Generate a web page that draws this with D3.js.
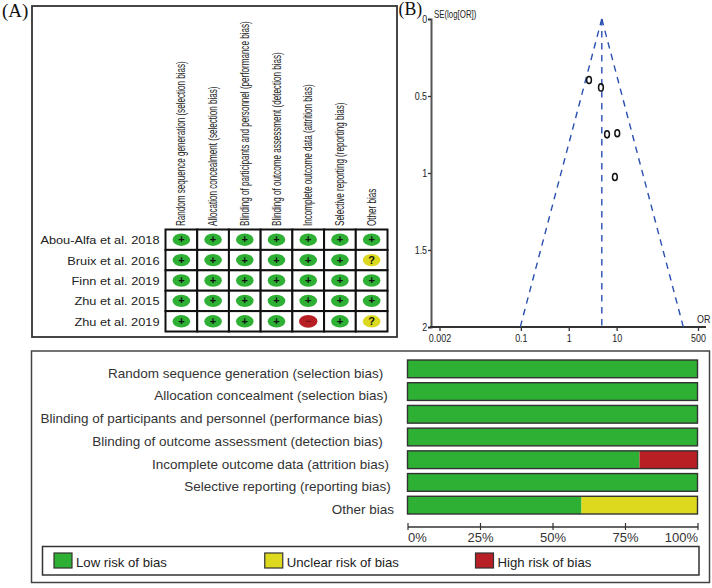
<!DOCTYPE html>
<html><head><meta charset="utf-8">
<script src="https://cdn.jsdelivr.net/npm/d3@7"></script>
<style>html,body{margin:0;padding:0;background:#fff}svg{display:block}text{font-family:"Liberation Sans",Arial,sans-serif}</style>
</head><body><svg id="c" width="712" height="588"></svg>
<script>
const domains=["Random sequence generation (selection bias)","Allocation concealment (selection bias)","Blinding of participants and personnel (performance bias)","Blinding of outcome assessment (detection bias)","Incomplete outcome data (attrition bias)","Selective reporting (reporting bias)","Other bias"];
const studies=["Abou-Alfa et al. 2018","Bruix et al. 2016","Finn et al. 2019","Zhu et al. 2015","Zhu et al. 2019"];
const judgement=[
 ["+","+","+","+","+","+","+"],
 ["+","+","+","+","+","+","?"],
 ["+","+","+","+","+","+","+"],
 ["+","+","+","+","+","+","+"],
 ["+","+","+","+","-","+","?"]];
const lowPct=[100,100,100,100,80,100,60];
const unclearPct=[0,0,0,0,0,0,40];
const highPct=[0,0,0,0,20,0,0];
const pctTicks=[0,25,50,75,100];
const legendLabels=["Low risk of bias","Unclear risk of bias","High risk of bias"];
const funnelOR=[2.65,4.7,6.3,10.3,9.2];
const funnelSE=[0.396,0.444,0.749,0.742,1.026];
const pooledOR=4.9;
const orTicks=[0.002,0.1,1,10,500];
const seTicks=[0,0.5,1,1.5,2];

const GREEN="#2db034",YELLOW="#dcd91f",RED="#b81f25";
const svg=d3.select("#c");
const color={"+":GREEN,"?":YELLOW,"-":RED};

// panel labels
[["(A)",2,17,19],["(B)",398.5,14.5,17.8]].forEach(([t,x,y,fs])=>svg.append("text").attr("x",x).attr("y",y).attr("font-size",fs).style("font-family","'Liberation Serif',serif").attr("fill","#111").text(t));

// ---- Panel A
svg.append("rect").attr("x",32).attr("y",6).attr("width",365).attr("height",331).attr("fill","none").attr("stroke","#333").attr("stroke-width",1.8);
const gx=d3.scaleBand().domain(domains).range([165.5,387.5]);
const gy=d3.scaleBand().domain(studies).range([229.5,331.5]);
const cell=svg.append("g");
studies.forEach((s,r)=>domains.forEach((d,c)=>{
  const v=judgement[r][c];
  const cx=gx(d)+gx.bandwidth()/2, cy=gy(s)+gy.bandwidth()/2;
  cell.append("rect").attr("x",gx(d)).attr("y",gy(s)).attr("width",gx.bandwidth()).attr("height",gy.bandwidth()).attr("fill","#fff").attr("stroke","#111").attr("stroke-width",2);
  cell.append("ellipse").attr("cx",cx).attr("cy",cy).attr("rx",v==="-"?9.2:8.8).attr("ry",v==="-"?6.4:6.2).attr("fill",color[v]);
  cell.append("text").attr("x",cx).attr("y",cy+(v==="?"?4:3.5)).attr("text-anchor","middle").attr("font-size",11).attr("font-weight","bold").attr("fill",v==="-"?"#7a1015":"#111").text(v==="-"?"−":v);
}));
svg.append("g").selectAll("text").data(studies).join("text")
  .attr("transform",d=>`translate(159.5,${gy(d)+gy.bandwidth()/2+4.5}) scale(1.16,1)`)
  .attr("text-anchor","end").attr("font-size",11).attr("fill","#222").text(d=>d);
svg.append("g").selectAll("text").data(domains).join("text")
  .attr("transform",d=>`translate(${gx(d)+gx.bandwidth()/2+4},226) rotate(-90) scale(0.59,1)`)
  .attr("font-size",13.7).attr("fill","#222").text(d=>d);

// ---- Panel B
const fx=d3.scaleLog().domain([0.002,500]).range([439.5,698]);
const fy=d3.scaleLinear().domain([0,2]).range([19,327]);
const yAxis=svg.append("g").attr("transform","translate(431,0)").call(d3.axisLeft(fy).tickValues(seTicks).tickFormat(d3.format("~g")).tickSize(3).tickPadding(3));
const xAxis=svg.append("g").attr("transform","translate(0,327)").call(d3.axisBottom(fx).tickValues(orTicks).tickFormat(d=>String(d)).tickSize(4).tickPadding(4));
yAxis.select(".domain").attr("stroke","#555").attr("stroke-width",2);
xAxis.select(".domain").remove();
svg.append("line").attr("x1",430).attr("x2",706).attr("y1",327).attr("y2",327).attr("stroke","#333").attr("stroke-width",1.8);
[yAxis,xAxis].forEach(a=>{a.selectAll("line").attr("stroke","#333").attr("stroke-width",1.3);a.selectAll("text").attr("font-size",10.5).attr("fill","#222").style("font-family","'Liberation Sans',sans-serif");});
yAxis.selectAll("text").attr("transform","scale(0.85,1)").attr("x",-4.6);
xAxis.selectAll("text").attr("transform","scale(0.85,1)").attr("x",0);
svg.append("text").attr("transform","translate(434,18) scale(0.75,1)").attr("font-size",10.5).attr("fill","#222").text("SE(log[OR])");
svg.append("text").attr("transform","translate(697,323) scale(0.85,1)").attr("font-size",10.5).attr("fill","#222").text("OR");
// 95% limits around the pooled estimate
const limit=(se,s)=>pooledOR*Math.exp(s*1.96*se);
const dash="6.5,5.5";
const funnelLine=d3.line().x(d=>fx(d[0])).y(d=>fy(d[1]));
[-1,1].forEach(s=>svg.append("path").attr("d",funnelLine([[limit(0,s),0],[limit(2,s),2]])).attr("fill","none").attr("stroke","#2a4fb0").attr("stroke-width",1.4).attr("stroke-dasharray",dash));
svg.append("path").attr("d",funnelLine([[pooledOR,0],[pooledOR,2]])).attr("fill","none").attr("stroke","#2a4fb0").attr("stroke-width",1.4).attr("stroke-dasharray",dash);
svg.append("g").selectAll("ellipse").data(funnelOR).join("ellipse")
  .attr("cx",d=>fx(d)).attr("cy",(d,i)=>fy(funnelSE[i])).attr("rx",2.4).attr("ry",3.6)
  .attr("fill","none").attr("stroke","#111").attr("stroke-width",1.5);

// ---- Panel C
svg.append("rect").attr("x",31.5).attr("y",351).attr("width",678).attr("height",231.5).attr("fill","none").attr("stroke","#444").attr("stroke-width",1.5);
const bx=d3.scaleLinear().domain([0,100]).range([407.5,697.5]);
const by=d3.scaleBand().domain(domains).range([360,514]).paddingInner(0.22).paddingOuter(0);
const labelRight=[383.3,387.7,382.7,382.7,389,390.7,394];
svg.append("g").selectAll("text").data(domains).join("text")
  .attr("transform",(d,i)=>`translate(${labelRight[i]},${by(d)+by.bandwidth()})`)
  .attr("text-anchor","end").attr("font-size",13.5).attr("fill","#333").text(d=>d);
const barG=svg.append("g");
domains.forEach((d,i)=>{
  let acc=0;
  [[lowPct[i],GREEN],[unclearPct[i],YELLOW],[highPct[i],RED]].forEach(([v,col])=>{
    if(!v)return;
    barG.append("rect").attr("x",bx(acc)).attr("y",by(d)).attr("width",bx(acc+v)-bx(acc)).attr("height",by.bandwidth()).attr("fill",col);
    acc+=v;
  });
  barG.append("rect").attr("x",bx(0)).attr("y",by(d)).attr("width",bx(100)-bx(0)).attr("height",by.bandwidth()).attr("fill","none").attr("stroke","#333").attr("stroke-width",1.4);
});
const pAxis=svg.append("g").attr("transform","translate(0,526.5)").call(d3.axisBottom(bx).tickValues(pctTicks).tickFormat(d=>d+"%").tickSize(3.5).tickSizeOuter(0).tickPadding(6));
pAxis.select(".domain").attr("stroke","#333").attr("stroke-width",1.3);
pAxis.selectAll("line").attr("stroke","#333").attr("stroke-width",1.2).attr("y1",-3.5).attr("y2",3.5);
pAxis.selectAll("text").attr("font-size",13).attr("fill","#333").style("font-family","'Liberation Sans',sans-serif")
  .attr("text-anchor",d=>d===0?"start":d===100?"end":"middle").attr("y",15.2).attr("dy",0);
// legend
svg.append("rect").attr("x",42.5).attr("y",546.5).attr("width",656.5).attr("height",28.5).attr("fill","none").attr("stroke","#333").attr("stroke-width",1.5);
const legX=d3.scalePoint().domain(legendLabels).range([54,475.5]);
const legColors=[GREEN,YELLOW,RED];
legendLabels.forEach((t,i)=>{
  const g=svg.append("g").attr("transform",`translate(${legX(t)},553)`);
  g.append("rect").attr("width",18).attr("height",15).attr("fill",legColors[i]).attr("stroke","#333").attr("stroke-width",1.2);
  g.append("text").attr("x",22).attr("y",13.5).attr("font-size",13.2).attr("fill","#222").text(t);
});
</script></body></html>
